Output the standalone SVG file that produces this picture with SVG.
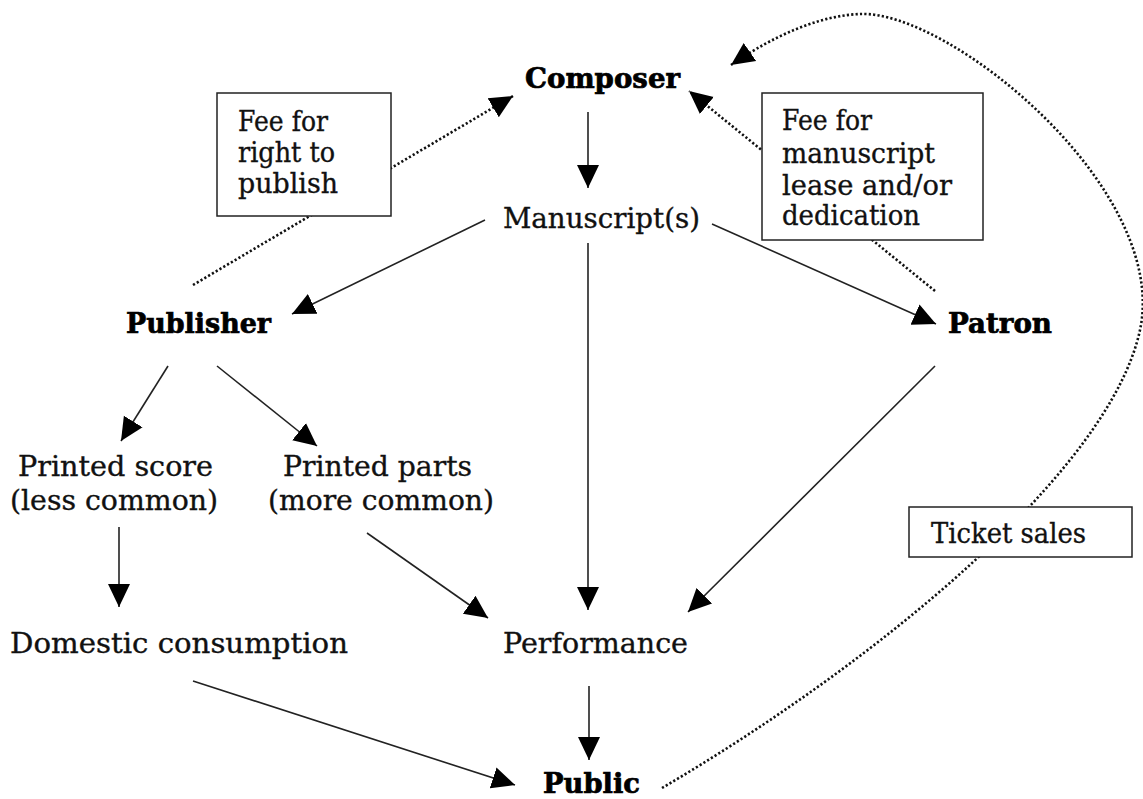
<svg xmlns="http://www.w3.org/2000/svg" width="1143" height="799" viewBox="0 0 1143 799">
<defs>
<marker id="ah" markerUnits="userSpaceOnUse" markerWidth="24" markerHeight="24" viewBox="0 0 24 24" refX="23" refY="12" orient="auto">
<path d="M0,1 L23,12 L0,23 Z" fill="#000"/>
</marker>
<style>
.t{font-family:"DejaVu Serif","Liberation Serif",serif;font-size:27px;fill:#111;stroke:#111;stroke-width:0.35}
.b{font-weight:bold;stroke-width:0.7;fill:#000;stroke:#000}
.s{stroke:#222;stroke-width:1.6;fill:none}
.d{stroke:#111;stroke-width:2.6;fill:none;stroke-dasharray:2.2 2.2}
.box{fill:#fff;stroke:#222;stroke-width:1.5}
</style>
</defs>
<rect width="1143" height="799" fill="#fff"/>
<g id="connectors">
<line class="s" x1="588" y1="112" x2="588" y2="188" marker-end="url(#ah)"/>
<line class="s" x1="485" y1="220" x2="292" y2="314" marker-end="url(#ah)"/>
<line class="s" x1="712" y1="224" x2="936" y2="324" marker-end="url(#ah)"/>
<line class="s" x1="588" y1="243" x2="588" y2="610" marker-end="url(#ah)"/>
<line class="s" x1="168" y1="366" x2="121" y2="441" marker-end="url(#ah)"/>
<line class="s" x1="217" y1="366" x2="317" y2="446" marker-end="url(#ah)"/>
<line class="s" x1="119" y1="527" x2="119" y2="607" marker-end="url(#ah)"/>
<line class="s" x1="367" y1="533" x2="488" y2="618" marker-end="url(#ah)"/>
<line class="s" x1="935" y1="366" x2="688" y2="612" marker-end="url(#ah)"/>
<line class="s" x1="589" y1="686" x2="589" y2="760" marker-end="url(#ah)"/>
<line class="s" x1="193" y1="681" x2="515" y2="785" marker-end="url(#ah)"/>
<line class="d" x1="193" y1="285" x2="513" y2="96" marker-end="url(#ah)"/>
<line class="d" x1="935" y1="291" x2="689" y2="91" marker-end="url(#ah)"/>
<path class="d" d="M662,788 C880,660 1110,470 1140,330 C1170,190 950,10 860,14 C810,16 760,45 731,65" marker-end="url(#ah)"/>
</g>
<g id="composer"><text class="t b" x="525" y="88" textLength="155" lengthAdjust="spacingAndGlyphs">Composer</text></g>
<g id="manuscripts"><text class="t" x="503" y="228" textLength="197" lengthAdjust="spacingAndGlyphs">Manuscript(s)</text></g>
<g id="publisher"><text class="t b" x="126" y="333" textLength="145" lengthAdjust="spacingAndGlyphs">Publisher</text></g>
<g id="patron"><text class="t b" x="948" y="333" textLength="104" lengthAdjust="spacingAndGlyphs">Patron</text></g>
<g id="printed-score">
<text class="t" x="18" y="476" textLength="195" lengthAdjust="spacingAndGlyphs">Printed score</text>
<text class="t" x="10" y="510" textLength="208" lengthAdjust="spacingAndGlyphs">(less common)</text>
</g>
<g id="printed-parts">
<text class="t" x="283" y="476" textLength="189" lengthAdjust="spacingAndGlyphs">Printed parts</text>
<text class="t" x="268" y="510" textLength="226" lengthAdjust="spacingAndGlyphs">(more common)</text>
</g>
<g id="domestic"><text class="t" x="10" y="653" textLength="338" lengthAdjust="spacingAndGlyphs">Domestic consumption</text></g>
<g id="performance"><text class="t" x="503" y="653" textLength="185" lengthAdjust="spacingAndGlyphs">Performance</text></g>
<g id="public"><text class="t b" x="543" y="793" textLength="97" lengthAdjust="spacingAndGlyphs">Public</text></g>
<g id="fee-publish">
<rect class="box" x="217" y="93" width="174" height="123"/>
<text class="t" x="238" y="131" textLength="90" lengthAdjust="spacingAndGlyphs">Fee for</text>
<text class="t" x="238" y="162" textLength="97" lengthAdjust="spacingAndGlyphs">right to</text>
<text class="t" x="238" y="193" textLength="100" lengthAdjust="spacingAndGlyphs">publish</text>
</g>
<g id="fee-manuscript">
<rect class="box" x="762" y="93" width="221" height="147"/>
<text class="t" x="782" y="130" textLength="90" lengthAdjust="spacingAndGlyphs">Fee for</text>
<text class="t" x="782" y="163" textLength="153" lengthAdjust="spacingAndGlyphs">manuscript</text>
<text class="t" x="782" y="195" textLength="170" lengthAdjust="spacingAndGlyphs">lease and/or</text>
<text class="t" x="782" y="225" textLength="138" lengthAdjust="spacingAndGlyphs">dedication</text>
</g>
<g id="ticket-sales">
<rect class="box" x="909" y="507" width="223" height="50"/>
<text class="t" x="931" y="543" textLength="155" lengthAdjust="spacingAndGlyphs">Ticket sales</text>
</g>
</svg>
